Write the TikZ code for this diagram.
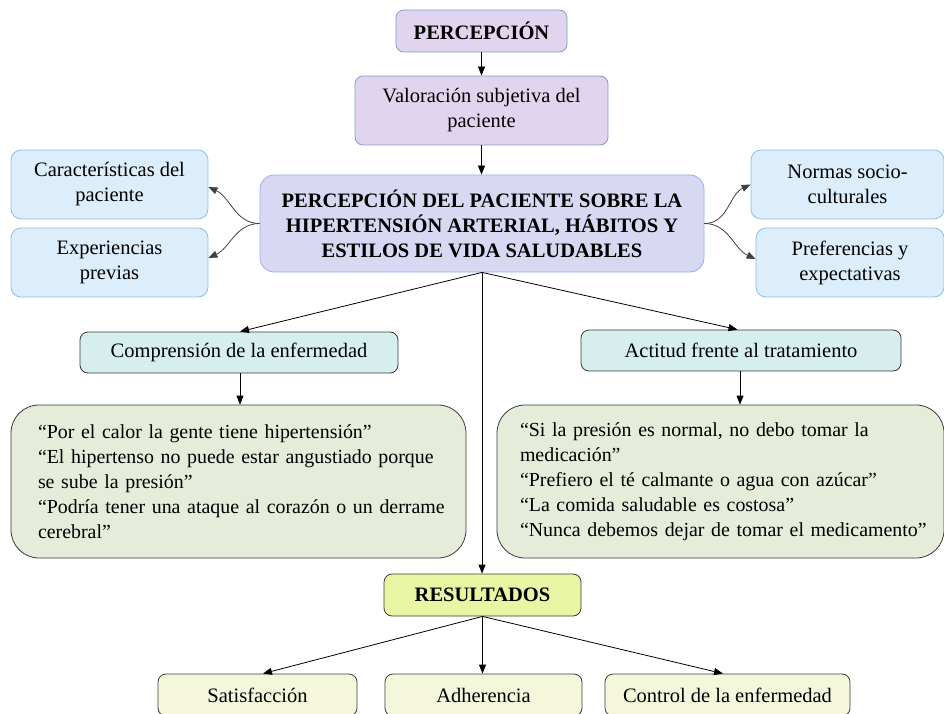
\documentclass[tikz,border=0pt]{standalone}
\usepackage{fontspec}
\setmainfont{Liberation Serif}
\usetikzlibrary{arrows.meta}
\definecolor{lavfill}{HTML}{E1D4EF}
\definecolor{lavdraw}{HTML}{7E9CCB}
\definecolor{mainfill}{HTML}{D8D8F3}
\definecolor{maindraw}{HTML}{93B4E4}
\definecolor{sidefill}{HTML}{DCEEFB}
\definecolor{sidedraw}{HTML}{8FBDE2}
\definecolor{tealfill}{HTML}{D6EEED}
\definecolor{quotefill}{HTML}{E5EDDA}
\definecolor{resfill}{HTML}{E8F5A3}
\definecolor{botfill}{HTML}{F5F7DC}
\definecolor{darkdraw}{HTML}{3A3A3A}
\definecolor{curvecol}{HTML}{404040}
\begin{document}
\begin{tikzpicture}[x=1pt,y=-1pt,
  base/.style={rectangle, rounded corners=8pt, inner sep=0pt, line width=0.8pt,
    font=\fontsize{20.5}{25}\selectfont, align=center},
  lav/.style={base, fill=lavfill, draw=lavdraw},
  mainbox/.style={base, rounded corners=14pt, fill=mainfill, draw=maindraw},
  side/.style={base, rounded corners=10pt, fill=sidefill, draw=sidedraw,
    minimum height=69pt},
  teal/.style={base, fill=tealfill, draw=darkdraw, minimum height=41pt},
  quote/.style={base, rounded corners=28pt, fill=quotefill, draw=darkdraw,
    minimum height=153pt, align=left, font=\fontsize{19.9}{25}\selectfont},
  res/.style={base, fill=resfill, draw=darkdraw, minimum width=197pt, minimum height=42pt},
  bot/.style={base, fill=botfill, draw=darkdraw, minimum height=42pt},
  arr/.style={-{Triangle[length=9pt,width=7pt]}, line width=0.8pt, draw=black},
  curv/.style={-{Triangle[length=9pt,width=7pt]}, line width=0.8pt, draw=curvecol}
]
\useasboundingbox (0,0) rectangle (944,714);

\node[lav, minimum width=171pt, minimum height=42pt] (perc) at (481.5,31) {\bfseries PERCEPCIÓN};
\node[lav, minimum width=253pt, minimum height=69pt] (val) at (481.5,110.5) {Valoración subjetiva del\\paciente};
\node[mainbox, minimum width=444pt, minimum height=97pt] (main) at (482,223.5)
  {\bfseries PERCEPCIÓN DEL PACIENTE SOBRE LA\\\bfseries HIPERTENSIÓN ARTERIAL, HÁBITOS Y\\\bfseries ESTILOS DE VIDA SALUDABLES};

\node[side, minimum width=197pt] (car) at (109.5,184.5) {Características del\\paciente};
\node[side, minimum width=197pt] (exp) at (109.5,262.5) {Experiencias\\previas};
\node[side, minimum width=193pt] (nor) at (847.5,184.5) {Normas socio-\\culturales};
\node[side, minimum width=188pt] (pre) at (850,262.5) {Preferencias y\\expectativas};

\node[teal, minimum width=318pt] (comp) at (239,352.5) {Comprensión de la enfermedad};
\node[teal, minimum width=320pt] (act) at (741,350.5) {Actitud frente al tratamiento};

\node[quote, text width=455pt] (q1) at (238.5,481.5)
  {\hspace*{27pt}“Por el calor la gente tiene hipertensión”\\
   \hspace*{27pt}“El hipertenso no puede estar angustiado porque\\
   \hspace*{27pt}se sube la presión”\\
   \hspace*{27pt}“Podría tener una ataque al corazón o un derrame\\
   \hspace*{27pt}cerebral”};
\node[quote, text width=447pt] (q2) at (720.5,481.5)
  {\hspace*{23pt}“Si la presión es normal, no debo tomar la\\
   \hspace*{23pt}medicación”\\
   \hspace*{23pt}“Prefiero el té calmante o agua con azúcar”\\
   \hspace*{23pt}“La comida saludable es costosa”\\
   \hspace*{23pt}“Nunca debemos dejar de tomar el medicamento”};

\node[res] (res) at (482.5,595) {\bfseries RESULTADOS};

\node[bot, minimum width=199pt] (sat) at (257.5,695) {Satisfacción};
\node[bot, minimum width=197pt] (adh) at (483.5,695) {Adherencia};
\node[bot, minimum width=245pt] (ctl) at (727.5,695) {Control de la enfermedad};

% vertical chain
\draw[arr] (perc.south) -- (perc.south |- val.north);
\draw[arr] (val.south) -- (val.south |- main.north);

% side curves
\draw[curv] (main.west) to[out=180,in=-25] ([yshift=-2.5pt]car.east);
\draw[curv] (main.west) to[out=180,in=25] ([yshift=4.5pt]exp.east);
\draw[curv] (main.east) to[out=0,in=205] (nor.west);
\draw[curv] (main.east) to[out=0,in=155] ([yshift=3.5pt]pre.west);

% main to branches
\draw[arr] (main.south) -- ([xshift=1pt]comp.north);
\draw[arr] (main.south) -- ([xshift=-3.5pt]act.north);
\draw[arr] (main.south) -- (main.south |- res.north);

\draw[arr] ([xshift=1pt]comp.south) -- ([xshift=1pt]comp.south |- q1.north);
\draw[arr] ([xshift=-1pt]act.south) -- ([xshift=-1pt]act.south |- q2.north);

% results
\draw[arr] (res.south) -- ([xshift=5.5pt]sat.north);
\draw[arr] (res.south) -- (res.south |- adh.north);
\draw[arr] (res.south) -- ([xshift=-4.5pt]ctl.north);
\end{tikzpicture}
\end{document}
